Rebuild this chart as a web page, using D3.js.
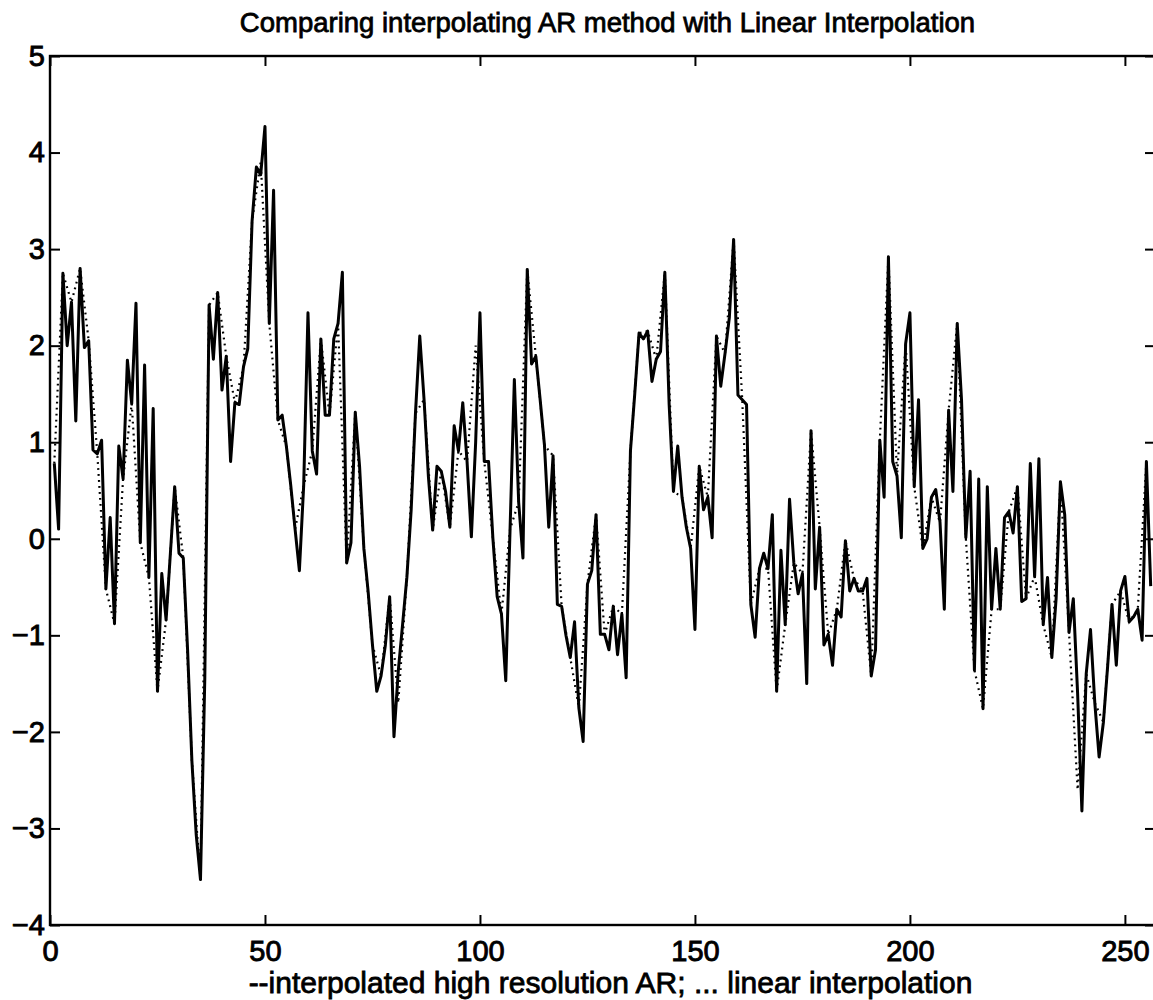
<!DOCTYPE html>
<html>
<head>
<meta charset="utf-8">
<script src="https://cdn.jsdelivr.net/npm/d3@7"></script>
<style>
  body { margin: 0; background: #fff; }
  text { font-family: "Liberation Sans", Arial, Helvetica, sans-serif; fill: #000; }
</style>
</head>
<body>
<svg id="chart" width="1153" height="1000"></svg>
<script>
// high resolution AR interpolation, samples 1..256
const arValues = [
  0.78, 0.10, 2.75, 2.00, 2.45, 1.22, 2.80, 1.98, 2.05, 0.92,
  0.88, 1.02, -0.52, 0.22, -0.88, 0.96, 0.62, 1.85, 1.40, 2.44,
  -0.04, 1.80, -0.40, 1.35, -1.58, -0.36, -0.84, -0.15, 0.54, -0.15,
  -0.20, -1.15, -2.30, -3.06, -3.53, -1.45, 2.42, 1.86, 2.55, 1.54,
  1.89, 0.80, 1.41, 1.39, 1.78, 1.97, 3.29, 3.85, 3.77, 4.27,
  2.23, 3.61, 1.23, 1.28, 0.95, 0.55, 0.10, -0.33, 0.55, 2.34,
  0.91, 0.67, 2.07, 1.28, 1.28, 2.07, 2.23, 2.76, -0.25, -0.04,
  1.31, 0.75, -0.10, -0.55, -1.10, -1.58, -1.42, -1.10, -0.60, -2.05,
  -1.37, -0.89, -0.40, 0.30, 1.30, 2.10, 1.44, 0.65, 0.09, 0.75,
  0.70, 0.49, 0.12, 1.17, 0.91, 1.41, 0.80, 0.02, 1.00, 2.34,
  0.80, 0.80, 0.01, -0.60, -0.78, -1.47, 0.10, 1.65, 0.38, -0.20,
  2.79, 1.81, 1.89, 1.44, 0.97, 0.12, 0.86, -0.68, -0.70, -1.00,
  -1.23, -0.86, -1.75, -2.10, -0.47, -0.33, 0.25, -0.99, -0.99, -1.15,
  -0.70, -1.20, -0.78, -1.44, 0.91, 1.50, 2.13, 2.07, 2.15, 1.63,
  1.86, 1.94, 2.76, 1.39, 0.49, 0.96, 0.43, 0.12, -0.10, -0.94,
  0.75, 0.30, 0.43, 0.01, 2.10, 1.58, 1.92, 2.29, 3.10, 1.49,
  1.44, 1.39, -0.68, -1.02, -0.31, -0.15, -0.31, 0.25, -1.58, -0.12,
  -0.89, 0.41, -0.25, -0.57, -0.36, -1.50, 1.12, -0.52, 0.12, -1.10,
  -0.99, -1.31, -0.73, -0.81, -0.02, -0.54, -0.41, -0.54, -0.54, -0.41,
  -1.42, -1.15, 1.02, 0.43, 2.92, 0.80, 0.65, 0.01, 2.02, 2.34,
  0.54, 1.44, -0.10, 0.00, 0.43, 0.51, 0.17, -0.73, 1.33, 0.49,
  2.23, 1.44, 0.01, 0.70, -1.36, 0.62, -1.76, 0.54, -0.73, -0.10,
  -0.73, 0.22, 0.28, 0.06, 0.54, -0.65, -0.62, 0.78, -0.39, 0.83,
  -0.89, -0.40, -1.23, -0.62, 0.59, 0.25, -0.97, -0.62, -1.60, -2.82,
  -1.40, -0.94, -1.70, -2.26, -1.90, -1.31, -0.68, -1.31, -0.54, -0.39,
  -0.86, -0.81, -0.73, -1.05, 0.80, -0.49
];

// low resolution samples (every 2nd point: 1, 3, 5, ...), joined linearly
const linValues = [
  0.78, 2.75, 2.45, 2.80, 2.05, 0.88, -0.52, -0.88, 0.62, 1.40,
  -0.04, -0.40, -1.58, -0.84, 0.54, -0.20, -2.30, -3.53, 2.42, 2.55,
  1.89, 1.41, 1.78, 3.29, 3.90, 2.23, 1.23, 0.95, 0.10, 0.55,
  0.91, 2.07, 1.28, 2.23, -0.25, 1.31, -0.10, -1.10, -1.42, -0.60,
  -1.70, -0.40, 1.30, 1.44, 0.09, 0.70, 0.12, 0.91, 0.80, 2.00,
  0.80, 0.01, -0.78, 0.10, 0.38, 2.79, 1.89, 0.97, 0.86, -0.70,
  -1.23, -1.75, -0.47, 0.25, -0.99, -0.70, -0.78, 0.91, 2.13, 2.15,
  1.86, 2.76, 0.49, 0.43, -0.10, 0.75, 0.43, 2.10, 1.92, 3.10,
  1.44, -0.68, -0.31, -0.31, -1.58, -0.89, -0.25, -0.36, 1.12, 0.12,
  -0.99, -0.73, -0.02, -0.41, -0.54, -1.42, 1.02, 2.92, 0.65, 2.02,
  0.54, -0.10, 0.43, 0.17, 1.33, 2.23, 0.01, -1.36, -1.76, -0.73,
  -0.73, 0.28, 0.54, -0.62, -0.39, -0.89, -1.23, 0.59, -0.97, -2.60,
  -1.40, -1.70, -1.90, -0.68, -0.54, -0.86, -0.73, 0.80
];

const xTicks = [0, 50, 100, 150, 200, 250];
const yTicks = [-4, -3, -2, -1, 0, 1, 2, 3, 4, 5];

const titleText = "Comparing interpolating AR method with Linear Interpolation";
const xLabelText = "--interpolated high resolution AR; ... linear interpolation";

// Set dimensions and margins (right axis sits just past the picture edge)
const margin = { top: 56, right: -2, bottom: 75, left: 50 },
    width = 1153 - margin.left - margin.right,
    height = 1000 - margin.top - margin.bottom;

const svg = d3.select("#chart")
    .append("g")
    .attr("transform", `translate(${margin.left},${margin.top})`);

// Scales
const x = d3.scaleLinear().domain([0, 257]).range([0, width]);
const y = d3.scaleLinear().domain([-4, 5]).range([height, 0]);

// Axes, MATLAB style: ticks pointing inward on all four sides
svg.append("g")
    .attr("class", "axis")
    .attr("transform", `translate(0,${height})`)
    .call(d3.axisBottom(x).tickValues(xTicks).tickSizeInner(-10).tickSizeOuter(0).tickPadding(15));

svg.append("g")
    .attr("class", "axis")
    .call(d3.axisLeft(y).tickValues(yTicks).tickSizeInner(-10).tickSizeOuter(0).tickPadding(5));

svg.append("g")
    .attr("class", "axis")
    .call(d3.axisTop(x).tickValues(xTicks).tickSizeInner(-10).tickSizeOuter(0).tickFormat(""));

svg.append("g")
    .attr("class", "axis")
    .attr("transform", `translate(${width},0)`)
    .call(d3.axisRight(y).tickValues(yTicks).tickSizeInner(-10).tickSizeOuter(0).tickFormat(""));

svg.selectAll(".axis path").remove();
svg.selectAll(".axis line").attr("stroke", "#000").attr("stroke-width", 2);
svg.selectAll(".axis text")
    .style("font-size", "29px")
    .attr("stroke", "#000")
    .attr("stroke-width", 0.9);

// Frame
svg.append("rect")
    .attr("width", width)
    .attr("height", height)
    .attr("fill", "none")
    .attr("stroke", "#000")
    .attr("stroke-width", 2.4);

// Linear interpolation (dotted)
const linLine = d3.line()
    .x((d, i) => x(2 * i + 1))
    .y(d => y(d));

svg.append("path")
    .datum(linValues)
    .attr("fill", "none")
    .attr("stroke", "#000")
    .attr("stroke-width", 2.2)
    .attr("stroke-dasharray", "1.8,4.2")
    .attr("d", linLine);

// AR interpolation (solid)
const arLine = d3.line()
    .x((d, i) => x(i + 1))
    .y(d => y(d));

svg.append("path")
    .datum(arValues)
    .attr("fill", "none")
    .attr("stroke", "#000")
    .attr("stroke-width", 3)
    .attr("stroke-linejoin", "round")
    .attr("d", arLine);

// Title and x label
svg.append("text")
    .attr("x", width / 2 + 5)
    .attr("y", -24)
    .attr("text-anchor", "middle")
    .style("font-size", "27.5px")
    .attr("stroke", "#000")
    .attr("stroke-width", 0.8)
    .text(titleText);

svg.append("text")
    .attr("x", width / 2 + 8)
    .attr("y", height + 68)
    .attr("text-anchor", "middle")
    .style("font-size", "30px")
    .attr("stroke", "#000")
    .attr("stroke-width", 0.8)
    .text(xLabelText);
</script>
</body>
</html>
